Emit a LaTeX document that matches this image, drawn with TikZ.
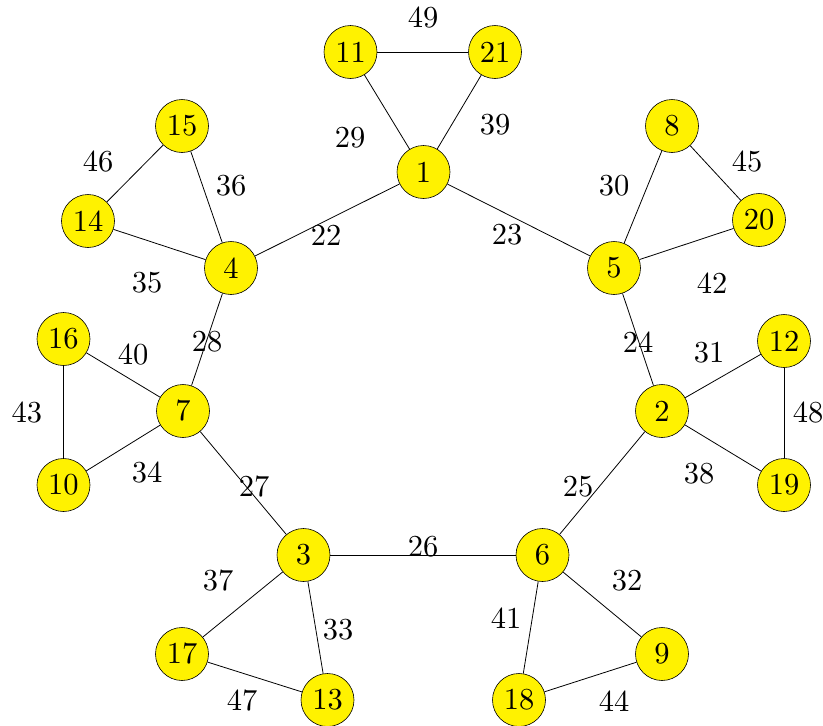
\documentclass[tikz,border=0pt]{standalone}
\usepackage{fontspec}
\setmainfont{lmroman10-regular.otf}
\begin{document}
\begin{tikzpicture}[x=1pt,y=-1pt,
  vtx/.style={circle,draw=black,line width=0.6pt,fill=yellow,minimum size=53pt,inner sep=0pt,font=\fontsize{30.5}{36}\selectfont},
  lbl/.style={font=\fontsize{30.5}{36}\selectfont,inner sep=0pt},
  edge/.style={draw=black,line width=0.8pt}]
\useasboundingbox (0,0) rectangle (823,726);
\node[vtx] (n1) at (423.5,172) {1};
\node[vtx] (n11) at (350.5,52) {11};
\node[vtx] (n21) at (495,52) {21};
\node[vtx] (n15) at (182,126) {15};
\node[vtx] (n14) at (88,221) {14};
\node[vtx] (n4) at (231,268) {4};
\node[vtx] (n8) at (672,126) {8};
\node[vtx] (n20) at (759,220) {20};
\node[vtx] (n5) at (614,268) {5};
\node[vtx] (n16) at (63.5,339) {16};
\node[vtx] (n7) at (183,411) {7};
\node[vtx] (n10) at (63.5,485) {10};
\node[vtx] (n12) at (784,341) {12};
\node[vtx] (n2) at (662,411) {2};
\node[vtx] (n19) at (784,485) {19};
\node[vtx] (n3) at (303.5,555) {3};
\node[vtx] (n6) at (542.5,555) {6};
\node[vtx] (n17) at (182,654) {17};
\node[vtx] (n13) at (327.5,700) {13};
\node[vtx] (n18) at (519,700) {18};
\node[vtx] (n9) at (662,654) {9};
\draw[edge] (n11) -- (n21);
\draw[edge] (n11) -- (n1);
\draw[edge] (n21) -- (n1);
\draw[edge] (n1) -- (n4);
\draw[edge] (n1) -- (n5);
\draw[edge] (n15) -- (n14);
\draw[edge] (n15) -- (n4);
\draw[edge] (n14) -- (n4);
\draw[edge] (n4) -- (n7);
\draw[edge] (n8) -- (n5);
\draw[edge] (n8) -- (n20);
\draw[edge] (n20) -- (n5);
\draw[edge] (n5) -- (n2);
\draw[edge] (n16) -- (n7);
\draw[edge] (n16) -- (n10);
\draw[edge] (n10) -- (n7);
\draw[edge] (n7) -- (n3);
\draw[edge] (n2) -- (n12);
\draw[edge] (n12) -- (n19);
\draw[edge] (n2) -- (n19);
\draw[edge] (n2) -- (n6);
\draw[edge] (n3) -- (n6);
\draw[edge] (n3) -- (n17);
\draw[edge] (n3) -- (n13);
\draw[edge] (n17) -- (n13);
\draw[edge] (n6) -- (n18);
\draw[edge] (n6) -- (n9);
\draw[edge] (n18) -- (n9);
\node[lbl] (l49) at (423,18) {49};
\node[lbl] (l29) at (350,138) {29};
\node[lbl] (l39) at (495,125) {39};
\node[lbl] (l46) at (98,162) {46};
\node[lbl] (l36) at (231,186) {36};
\node[lbl] (l22) at (326,235) {22};
\node[lbl] (l23) at (507,235) {23};
\node[lbl] (l30) at (614,186) {30};
\node[lbl] (l45) at (747,162) {45};
\node[lbl] (l35) at (147,283) {35};
\node[lbl] (l42) at (712,283) {42};
\node[lbl] (l28) at (207,342) {28};
\node[lbl] (l40) at (133,355) {40};
\node[lbl] (l24) at (638,342) {24};
\node[lbl] (l31) at (709,353) {31};
\node[lbl] (l43) at (27,413) {43};
\node[lbl] (l48) at (808,413) {48};
\node[lbl] (l34) at (147,473) {34};
\node[lbl] (l27) at (254,487) {27};
\node[lbl] (l25) at (578,487) {25};
\node[lbl] (l38) at (699,474) {38};
\node[lbl] (l26) at (423,547) {26};
\node[lbl] (l37) at (218,581) {37};
\node[lbl] (l32) at (627,581) {32};
\node[lbl] (l33) at (338,630) {33};
\node[lbl] (l41) at (506,618) {41};
\node[lbl] (l47) at (242,701) {47};
\node[lbl] (l44) at (614,701) {44};
\end{tikzpicture}
\end{document}
